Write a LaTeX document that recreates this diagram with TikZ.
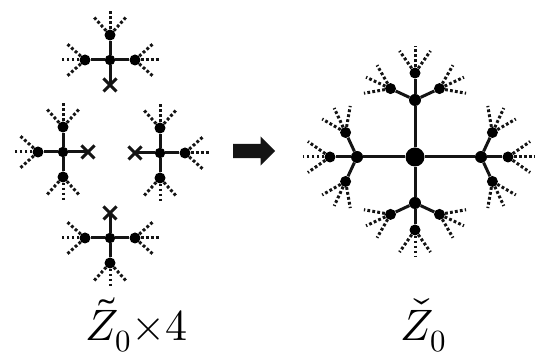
\documentclass[tikz,border=0pt]{standalone}
\usepackage{unicode-math}
\setmathfont{Latin Modern Math}
\usetikzlibrary{calc,shapes.arrows}

\begin{document}
\begin{tikzpicture}[x=1pt, y=1pt,
  hub/.style={circle, fill=black, inner sep=0pt, minimum size=10.5pt},
  leaf/.style={circle, fill=black, inner sep=0pt, minimum size=11pt},
  fork/.style={circle, fill=black, inner sep=0pt, minimum size=12pt},
  root/.style={circle, fill=black, inner sep=0pt, minimum size=19pt},
  arm/.style={line width=3pt, draw=black!92},
  fan/.style={line width=3pt, draw=black!92, dash pattern=on 2.8pt off 2.2pt},
  cut/.style={line width=3pt, draw=black!92},
  lab/.style={font=\fontsize{44}{50}\selectfont, inner sep=0pt, anchor=base west},
]
\useasboundingbox (0,0) rectangle (541,358);

% ------------------------------------------------------------------ four cut copies
\foreach \n/\cx/\cy/\xa in {t/110/298/270, l/63/206/0, r/160/205/180, b/110/120/90} {
  \node[hub] (\n c) at (\cx,\cy) {};
  \coordinate (\n x) at ($(\n c)+(\xa:25)$);
  \draw[arm] (\n c) -- (\n x);
  \draw[cut] ($(\n x)+(-6.5,-6.5)$) -- ($(\n x)+(6.5,6.5)$) ($(\n x)+(-6.5,6.5)$) -- ($(\n x)+(6.5,-6.5)$);
  \foreach \k in {1,2,3} {
    \pgfmathsetmacro\ang{\xa+90*\k}
    \node[leaf] (\n\k) at ($(\n c)+(\ang:25)$) {};
    \draw[arm] (\n c) -- (\n\k);
    \foreach \d in {-42,0,42}
      \draw[fan] (\n\k) -- ++({\ang+\d}:25);
  }
}

% ------------------------------------------------------------------ arrow
\node[single arrow, fill=black!92, inner sep=7pt, minimum height=42pt,
      single arrow head extend=7.5pt, anchor=tail] (step) at (233,207) {};

% ------------------------------------------------------------------ glued tree
\node[root] (o) at (415,201) {};
\foreach \n/\a/\len in {up/90/57, dn/270/46, lf/180/58, rt/0/66} {
  \node[fork] (\n) at ($(o)+(\a:\len)$) {};
  \draw[arm] (o) -- (\n);
  \foreach \k/\s in {1/-65,2/0,3/65} {
    \pgfmathsetmacro\ang{\a+\s}
    \node[leaf] (\n\k) at ($(\n)+(\ang:27)$) {};
    \draw[arm] (\n) -- (\n\k);
    \foreach \d in {-35,0,35}
      \draw[fan] (\n\k) -- ++({\ang+\d}:27);
  }
}

% ------------------------------------------------------------------ labels
\node[lab] (zt) at (85,17) {$\tilde{Z}_0{\times}4$};
\node[lab] (zc) at (400,17) {$\check{Z}_0$};
\end{tikzpicture}
\end{document}
